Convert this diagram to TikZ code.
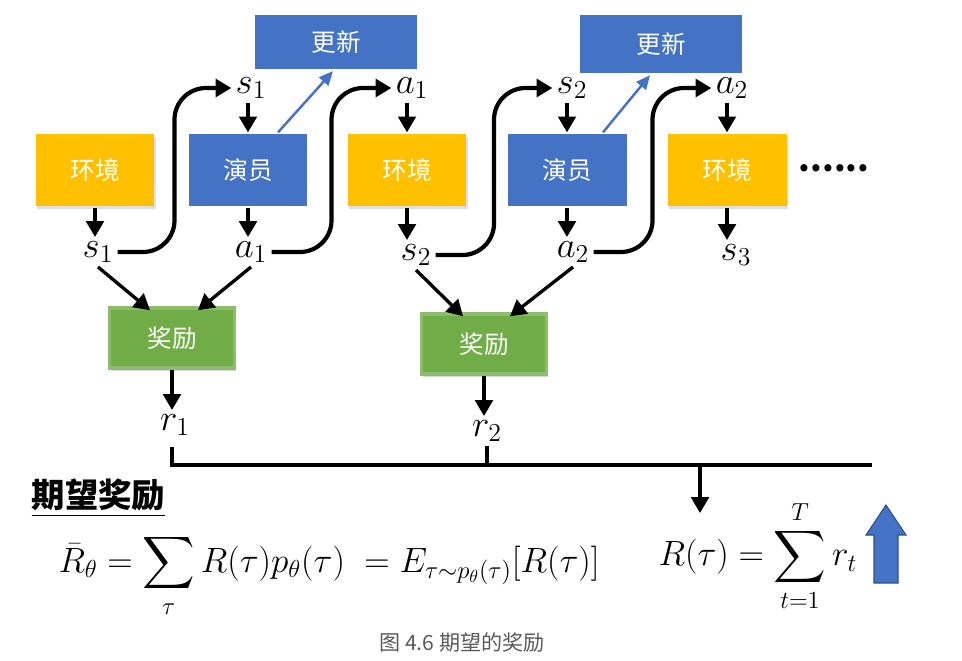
\documentclass[tikz,border=0pt]{standalone}
\usepackage{fix-cm}
\usepackage{amsmath}
\usepackage{fontspec}
\newfontfamily\cjk{Noto Sans CJK SC}
\usetikzlibrary{calc,arrows.meta,positioning,shadows}
\definecolor{boxblue}{HTML}{4472C4}
\definecolor{boxyellow}{HTML}{FFC000}
\definecolor{boxgreen}{HTML}{70AD47}
\definecolor{capgray}{HTML}{595959}

\begin{document}
\begin{tikzpicture}[x=0.02cm, y=-0.02cm, line width=1.9pt,
        every node/.style={inner sep=1.5pt, font=\fontsize{21}{24}\selectfont},
        box/.style={minimum width=2.38cm, minimum height=1.44cm, inner sep=0pt, text=white, font=\cjk\fontsize{14}{16}\selectfont},
        envbox/.style={box, fill=boxyellow, drop shadow={shadow xshift=1pt, shadow yshift=-1.5pt, opacity=0.25}},
        actbox/.style={box, fill=boxblue},
        updbox/.style={box, fill=boxblue, minimum width=3.24cm, minimum height=1.1cm},
        rewbox/.style={box, fill=boxgreen, draw=boxgreen!80!white, line width=2pt, minimum width=2.5cm, minimum height=1.2cm, drop shadow={shadow xshift=1pt, shadow yshift=-1.5pt, opacity=0.3}},
        formula/.style={anchor=west, inner sep=0pt, font=\fontsize{20}{24}\selectfont},
        go/.style={-{Triangle[length=9pt,width=10pt]}},
        wave/.style={go, line width=2.4pt, rounded corners=18pt},
        up/.style={-{Triangle[length=8pt,width=7pt]}, boxblue, line width=1.4pt}]
    \useasboundingbox (0,0) rectangle (962,660);

    \node[updbox] (u1) at (336,42) {更新};
    \node[updbox, minimum height=1.18cm] (u2) at (661,44) {更新};

    \node[envbox] (e1) at (95,170) {环境};
    \node[actbox] (p1) at (248,170) {演员};
    \node[envbox] (e2) at (407,170) {环境};
    \node[actbox] (p2) at (567,170) {演员};
    \node[envbox] (e3) at (727,170) {环境};
    \node (dots) at (834,168) {\cjk\fontsize{19}{20}\selectfont\bfseries ......};

    \node (s1t) at (251,88) {$s_1$};
    \node (a1t) at (412,88) {$a_1$};
    \node (s2t) at (572,88) {$s_2$};
    \node (a2t) at (732,88) {$a_2$};

    \node (s1) at (98,252) {$s_1$};
    \node (a1) at (251,252) {$a_1$};
    \node (s2) at (416,255) {$s_2$};
    \node (a2) at (573,252) {$a_2$};
    \node (s3) at (736,255) {$s_3$};

    \node[rewbox] (w1) at (172,338) {奖励};
    \node[rewbox] (w2) at (484,344) {奖励};
    \node (r1) at (175,425) {$r_1$};
    \node (r2) at (487,431) {$r_2$};

    \draw[go] (p1.north |- s1t.south) -- (p1.north);
    \draw[go] (e2.north |- a1t.south) -- (e2.north);
    \draw[go] (p2.north |- s2t.south) -- (p2.north);
    \draw[go] (e3.north |- a2t.south) -- (e3.north);

    \draw[go] (e1.south) -- (e1.south |- s1.north);
    \draw[go] (p1.south) -- (p1.south |- a1.north);
    \draw[go] (e2.south) -- (e2.south |- s2.north);
    \draw[go] (p2.south) -- (p2.south |- a2.north);
    \draw[go] (e3.south) -- (e3.south |- s3.north);

    \draw[wave] (s1.east) -| ($(s1.east)!.5!(s1t.west)$) |- (s1t.west);
    \draw[wave] (a1.east) -| ($(a1.east)!.5!(a1t.west)$) |- (a1t.west);
    \draw[wave] (s2.east) -| ($(s2.east)!.5!(s2t.west)$) |- (s2t.west);
    \draw[wave] (a2.east) -| ($(a2.east)!.5!(a2t.west)$) |- (a2t.west);

    \draw[up] ($(p1.north)+(30,0)$) -- ($(u1.south)+(-3,0)$);
    \draw[up] ($(p2.north)+(36,0)$) -- ($(u2.south)+(-11,0)$);

    \draw[go] (s1.south) -- ($(w1.north)+(-22,4)$);
    \draw[go] (a1.south) -- ($(w1.north)+(26,4)$);
    \draw[go] (s2.south) -- ($(w2.north)+(-21,4)$);
    \draw[go] (a2.south) -- ($(w2.north)+(26,4)$);

    \draw[go] (w1.south) -- (w1.south |- r1.north);
    \draw[go] (w2.south) -- (w2.south |- r2.north);

    \coordinate (b0) at (172,447);
    \coordinate (b1) at (872,465);
    \coordinate (d0) at (700,465);
    \coordinate (d1) at (700,513);
    \draw (b0) |- (b1);
    \draw (r2.south) -- (r2.south |- b1);
    \draw[go] (d0) -- (d1);

    \node[anchor=west, inner sep=0pt] (head) at (30,498) {\cjk\fontsize{19}{22}\selectfont\bfseries\underline{期望奖励}};
    \node[formula] (f1) at (57,576) {$\displaystyle \bar{R}_\theta = \sum_{\tau} R(\tau)p_\theta(\tau) \;= E_{\tau\sim p_\theta(\tau)}[R(\tau)]$};
    \node[formula] (f2) at (657,556) {$\displaystyle R(\tau) = \sum_{t=1}^{T} r_t$};

    \fill[boxblue, draw=boxblue!70!black, line width=0.6pt] (874,583) -- (874,535) -- (866,535) -- (886,505) -- (906,535) -- (898,535) -- (898,583) -- cycle;

    \node (cap) at (462,642) {\cjk\fontsize{12}{14}\selectfont\color{capgray}图 4.6 期望的奖励};
\end{tikzpicture}
\end{document}
